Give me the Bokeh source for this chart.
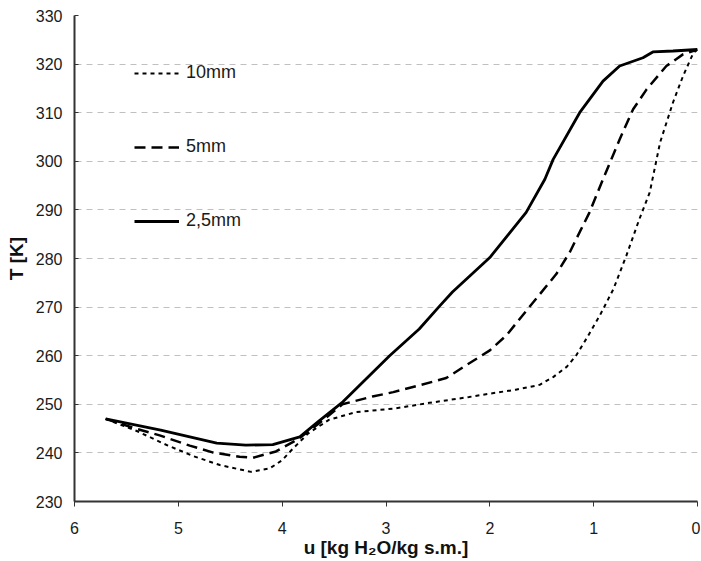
from bokeh.plotting import figure
from bokeh.models import Range1d, FixedTicker, Legend, LegendItem
from bokeh.embed import file_html
from bokeh.resources import INLINE

# ---- data ----
series_labels = ["10mm", "5mm", "2,5mm"]

u_10mm = [5.70, 5.40, 5.10, 4.85, 4.60, 4.30, 4.12, 4.00, 3.90, 3.75, 3.55, 3.29,
          2.93, 2.58, 2.20, 2.00, 1.75, 1.52, 1.39, 1.26, 1.17, 1.07, 0.94, 0.81,
          0.685, 0.56, 0.46, 0.36, 0.236, 0.14, 0.04, 0.0]
T_10mm = [247.0, 244.5, 241.5, 239.3, 237.5, 236.1, 236.8, 238.5, 240.8, 244.0, 246.8, 248.4,
          249.1, 250.3, 251.5, 252.2, 253.0, 254.0, 255.6, 257.7, 260.0, 263.5, 268.3, 273.7,
          280.6, 288.1, 293.6, 303.9, 312.1, 317.5, 322.3, 323.0]

u_5mm = [5.70, 5.44, 5.18, 4.89, 4.67, 4.41, 4.28, 4.06, 3.85, 3.65, 3.42, 3.13,
         2.93, 2.68, 2.42, 2.23, 2.00, 1.84, 1.62, 1.36, 1.23, 1.04, 0.91, 0.75,
         0.62, 0.49, 0.30, 0.14, 0.0]
T_5mm = [247.0, 245.2, 243.6, 241.5, 240.1, 239.2, 239.0, 240.3, 242.8, 246.0, 250.0, 251.6,
         252.5, 253.9, 255.4, 258.0, 261.1, 264.2, 270.0, 276.8, 281.3, 289.5, 296.3, 304.5,
         310.7, 314.8, 319.6, 322.0, 323.0]

u_2_5mm = [5.70, 5.17, 4.63, 4.35, 4.09, 3.83, 3.65, 3.415, 2.965, 2.68, 2.48, 2.36,
           2.00, 1.65, 1.47, 1.39, 1.135, 0.91, 0.75, 0.525, 0.43, 0.236, 0.0]
T_2_5mm = [247.0, 244.7, 242.0, 241.6, 241.7, 243.3, 246.5, 250.5, 260.0, 265.5, 270.3, 273.1,
           280.2, 289.5, 296.3, 300.4, 310.0, 316.5, 319.6, 321.3, 322.5, 322.7, 323.0]

x_ticks = [0, 1, 2, 3, 4, 5, 6]
y_ticks = [230, 240, 250, 260, 270, 280, 290, 300, 310, 320, 330]

FONT = "Liberation Sans"

p = figure(width=700, height=560, output_backend="svg", toolbar_location=None,
           x_range=Range1d(6, 0), y_range=Range1d(230, 330),
           min_border_left=74, min_border_right=3, min_border_top=15, min_border_bottom=56)
p.outline_line_color = None
p.background_fill_color = "white"
p.border_fill_color = "white"

# grid
p.xgrid.visible = False
p.ygrid.ticker = FixedTicker(ticks=y_ticks)
p.ygrid.grid_line_color = "#c0c0c0"
p.ygrid.grid_line_width = 1
p.ygrid.grid_line_dash = "6 5"

# axes
p.xaxis.ticker = FixedTicker(ticks=x_ticks)
p.yaxis.ticker = FixedTicker(ticks=y_ticks)
for ax in (p.xaxis[0], p.yaxis[0]):
    ax.axis_line_color = "#333333"
    ax.axis_line_width = 2
    ax.major_tick_line_color = "#333333"
    ax.major_tick_line_width = 1
    ax.minor_tick_line_color = None
    ax.major_label_text_font = FONT
    ax.major_label_text_font_size = "16px"
    ax.major_label_text_color = "#1a1a1a"
    ax.axis_label_text_font = FONT
    ax.axis_label_text_font_size = "19px"
    ax.axis_label_text_font_style = "bold"
    ax.axis_label_text_color = "#111111"

p.xaxis.major_tick_in = 0
p.xaxis.major_tick_out = 5
p.xaxis.major_label_standoff = 15
p.xaxis.axis_label = "u [kg H\u2082O/kg s.m.]"
p.xaxis.axis_label_standoff = 0

p.yaxis.major_tick_in = 4
p.yaxis.major_tick_out = 0
p.yaxis.major_label_standoff = 12
p.yaxis.axis_label = "T [K]"
p.yaxis.axis_label_standoff = 6

# series
r10 = p.line(u_10mm, T_10mm, line_color="black", line_width=2, line_dash="4 4")
r5 = p.line(u_5mm, T_5mm, line_color="black", line_width=2.5, line_dash="11 6")
r25 = p.line(u_2_5mm, T_2_5mm, line_color="black", line_width=2.8)

legend = Legend(
    items=[LegendItem(label=series_labels[0], renderers=[r10]),
           LegendItem(label=series_labels[1], renderers=[r5]),
           LegendItem(label=series_labels[2], renderers=[r25])],
    location=(60, 270), glyph_width=45, glyph_height=20, label_height=20,
    spacing=53, padding=0, margin=0, label_standoff=7,
    label_text_font=FONT, label_text_font_size="18px", label_text_color="#1a1a1a",
    background_fill_alpha=0, border_line_alpha=0)
p.add_layout(legend)

open("out.html", "w").write(file_html(p, INLINE))
